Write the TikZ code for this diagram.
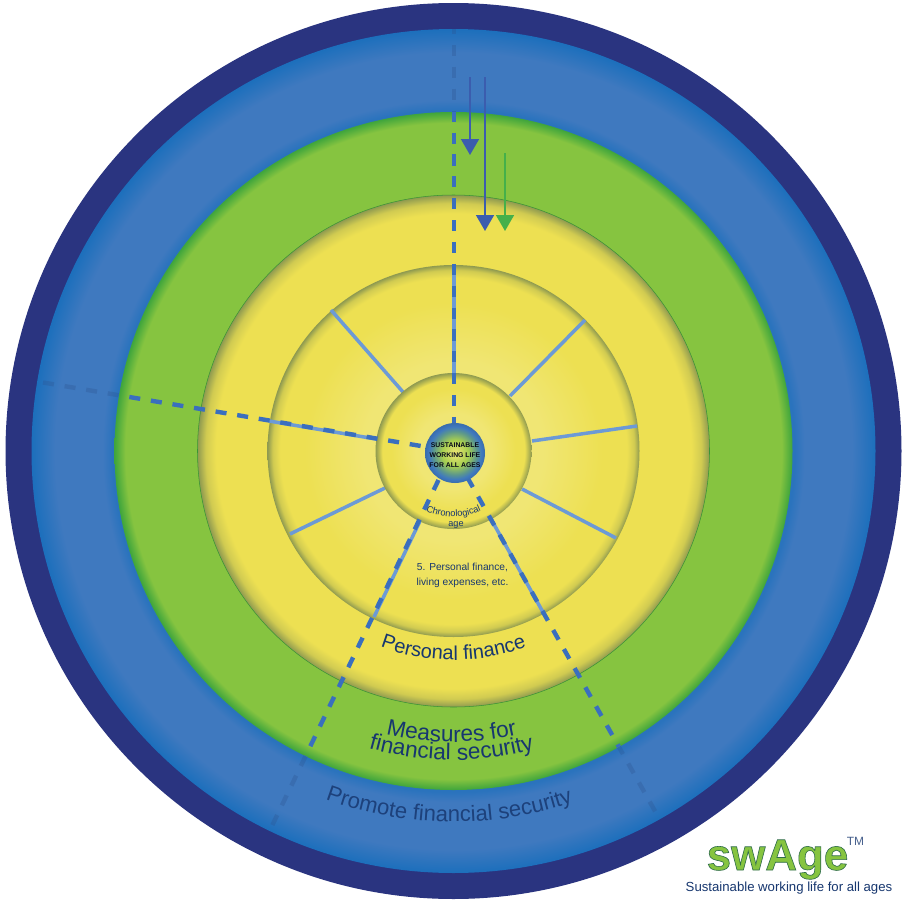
\documentclass[tikz,border=0pt]{standalone}
\usepackage{fontspec}
\setmainfont{Liberation Sans}
\usetikzlibrary{decorations.text,arrows.meta}
\definecolor{swNavy}{HTML}{2A3480}
\definecolor{swBlue}{HTML}{3F79BF}
\definecolor{swBlueEdge}{HTML}{1C6FBC}
\definecolor{swGreen}{HTML}{86C440}
\definecolor{swGreenEdge}{HTML}{3FA53C}
\definecolor{swYellow}{HTML}{EDE052}
\definecolor{swYellowEdge}{HTML}{8F9A50}
\definecolor{swPale}{HTML}{F0E674}
\definecolor{swText}{HTML}{17376F}
\definecolor{swSpoke}{HTML}{6C9AD6}
\definecolor{swDash}{HTML}{3A6FBE}
\definecolor{swArrow}{HTML}{3B5DAE}
\definecolor{swArrowGreen}{HTML}{45B04A}
% the path's box takes the middle 50bp of a shading, so its edge is at 25bp
\pgfdeclareradialshading{blueRing}{\pgfpoint{0bp}{0bp}}{color(0bp)=(swBlue);color(20.2bp)=(swBlueEdge!60!swBlue);color(20.8bp)=(swBlue);color(23.6bp)=(swBlue);color(25bp)=(swBlueEdge);color(50bp)=(swBlueEdge)}
\pgfdeclareradialshading{greenRing}{\pgfpoint{0bp}{0bp}}{color(0bp)=(swGreen);color(24.2bp)=(swGreen);color(25bp)=(swGreenEdge);color(50bp)=(swGreenEdge)}
\pgfdeclareradialshading{yellowRing}{\pgfpoint{0bp}{0bp}}{color(0bp)=(swYellow);color(23.2bp)=(swYellow);color(24.2bp)=(swYellow!70!swYellowEdge);color(25bp)=(swYellowEdge);color(50bp)=(swYellowEdge)}
\pgfdeclareradialshading{midRing}{\pgfpoint{0bp}{0bp}}{color(0bp)=(swPale);color(12bp)=(swPale);color(20bp)=(swYellow);color(23.3bp)=(swYellow);color(24.3bp)=(swYellow!70!swYellowEdge);color(25bp)=(swYellowEdge);color(50bp)=(swYellowEdge)}
\pgfdeclareradialshading{hubRing}{\pgfpoint{0bp}{0bp}}{color(0bp)=(swPale);color(12bp)=(swPale);color(20bp)=(swYellow);color(22.8bp)=(swYellow);color(25bp)=(swYellowEdge);color(50bp)=(swYellowEdge)}
\pgfdeclareradialshading{coreDisc}{\pgfpoint{0bp}{0bp}}{color(0bp)=(swPale);color(11bp)=(swGreen!70!swPale);color(18bp)=(swBlue!60!swGreen);color(22bp)=(swBlue);color(25bp)=(swBlue!90!black);color(50bp)=(swBlue!90!black)}
\tikzset{
  spoke/.style={swSpoke,line width=2pt},
  dashline/.style={line width=2.5pt,dash pattern=on 6.3pt off 6.15pt},
  coretext/.style={font=\fontsize{3.9}{5.7}\selectfont\bfseries,align=center,text=black!80!swNavy,inner sep=0pt},
  ringpath/.style={decorate,decoration={text along path,text align=center,text={#1}}},
  tip/.style={line width=1.1pt,-{Triangle[length=9.1pt,width=10.2pt]}},
}
\newcommand{\dashspokes}{
\draw[dashline] (454,23.2) -- (454,423);
\draw[dashline] (43,382.5) -- (427,447);
\draw[dashline] (438.5,480) -- (270,830);
\draw[dashline] (467.4,477.5) -- (660,820);
}
\begin{document}
\begin{tikzpicture}[x=0.02cm,y=-0.02cm]
\useasboundingbox (0,0) rectangle (903,903);
\fill[white] (0,0) rectangle (903,903);
\coordinate (C) at (453.5,451);
% rings
\fill[swNavy] (C) circle (448);
\shade[shading=blueRing] (C) circle (422);
\begin{scope}[swDash!75!black,opacity=.3]
\clip (C) circle (422);
\dashspokes
\end{scope}
\shade[shading=greenRing] (C) circle (339);
\shade[shading=yellowRing] (C) circle (256);
\draw[swGreenEdge!90!black,line width=.3pt] (C) circle (256);
\shade[shading=midRing] (C) circle (186);
% spokes
\draw[spoke] (403,392) -- (331,310);
\draw[spoke] (510,396) -- (585,320);
\draw[spoke] (532,441) -- (637,426);
\draw[spoke] (522,489) -- (616,538);
\draw[spoke] (385,488) -- (290,534);
\draw[spoke] (376,439) -- (269,421);
\draw[spoke] (420,521) -- (374,617);
\draw[spoke] (491,519) -- (544,614);
\draw[spoke] (454,373) -- (454,265);
\shade[shading=hubRing] (C) circle (78);
\begin{scope}[swDash]
\clip (C) circle (339);
\dashspokes
\end{scope}
\shade[shading=coreDisc] (455,453) circle (30);
\node[coretext] (coreLabel) at (455,455) {SUSTAINABLE\\WORKING LIFE\\FOR ALL AGES};
% arrows
\draw[swArrow,tip] (470,77) -- (470,155);
\draw[swArrow,tip] (485,77) -- (485,231);
\draw[swArrowGreen,tip] (505,153) -- (505,231);
% curved labels
\path[ringpath={|\fontsize{5.3}{6}\selectfont\color{swText}|Chronological}] (C) ++(122:66) arc[start angle=122,end angle=58,radius=66];
\node[font=\fontsize{5.2}{6}\selectfont,text=swText] (ageLabel) at (456,525) {age};
\node[font=\fontsize{5.8}{8.5}\selectfont,align=center,text=swText] (itemLabel) at (462.5,575.5) {5. Personal finance,\\living expenses, etc.};
\path[ringpath={|\fontsize{11.4}{12}\selectfont\color{swText}|Personal finance}] (C) ++(130:209) arc[start angle=130,end angle=50,radius=209];
\path[ringpath={|\fontsize{12.9}{14}\selectfont\color{swText}|Measures for}] (C) ++(120.4:291) arc[start angle=120.4,end angle=60.4,radius=291];
\path[ringpath={|\fontsize{12.9}{14}\selectfont\color{swText}|financial security}] (C) ++(120.4:309) arc[start angle=120.4,end angle=60.4,radius=309];
\path[ringpath={|\fontsize{12.55}{14}\selectfont\color{swText!85!swBlue}|Promote financial security}] (C) ++(125.7:371) arc[start angle=125.7,end angle=55.7,radius=371];
% logo
\node[font=\fontsize{25}{26}\selectfont\bfseries,text=swGreen,inner sep=0pt,anchor=base] (logoName) at (777.5,870) {\special{pdf:code q 2 Tr 0.35 w 0.18 0.42 0.29 RG}swAge\special{pdf:code 0 Tr Q}};
\node[font=\fontsize{6.8}{8}\selectfont,text=swText!80,inner sep=0pt] (logoMark) at (855.5,841) {TM};
\node[font=\fontsize{7.5}{8}\selectfont,text=swText,inner sep=0pt] (logoSub) at (789,888) {Sustainable working life for all ages};
\end{tikzpicture}
\end{document}
